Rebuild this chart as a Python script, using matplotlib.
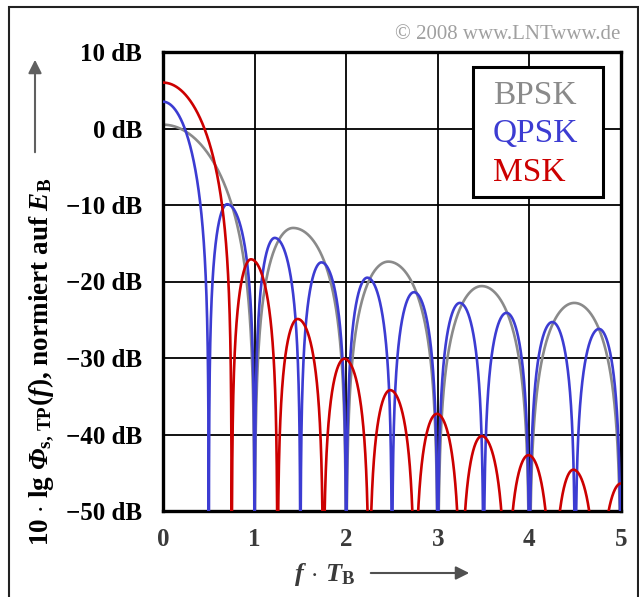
import numpy as np
import matplotlib
matplotlib.use('Agg')
import matplotlib.pyplot as plt
from matplotlib.patches import Rectangle

# Lobe data of the three spectra (10 lg PSD in dB over f*T_B)
# BPSK
bpsk_main_db = 0.5
bpsk_nulls = [1.0, 2.0, 3.0, 4.0, 5.0]
bpsk_peak_f = [1.42, 2.46, 3.48, 4.49]
bpsk_peak_db = [-13.0, -17.4, -20.6, -22.8]

# QPSK
qpsk_main_db = 3.5
qpsk_nulls = [0.5, 1.0, 1.5, 2.0, 2.5, 3.0, 3.5, 4.0, 4.5, 5.0]
qpsk_peak_f = [0.70, 1.22, 1.73, 2.23, 2.74, 3.24, 3.75, 4.25, 4.76]
qpsk_peak_db = [-9.9, -14.3, -17.5, -19.5, -21.4, -22.8, -24.1, -25.3, -26.2]

# MSK
msk_main_db = 6.0
msk_nulls = [0.75, 1.25, 1.75, 2.25, 2.75, 3.25, 3.75, 4.25, 4.75, 5.25]
msk_peak_f = [0.96, 1.47, 1.98, 2.48, 2.99, 3.48, 3.99, 4.48, 5.0]
msk_peak_db = [-17.1, -24.9, -30.1, -34.2, -37.3, -40.2, -42.7, -44.6, -46.4]

y_ticks = [10, 0, -10, -20, -30, -40, -50]
y_labels = ['10 dB', '0 dB', '\u221210 dB', '\u221220 dB', '\u221230 dB', '\u221240 dB', '\u221250 dB']
x_ticks = [0, 1, 2, 3, 4, 5]

W, H = 639, 597

plt.rcParams['font.family'] = ['Liberation Serif', 'DejaVu Serif']
plt.rcParams['mathtext.fontset'] = 'custom'
plt.rcParams['mathtext.rm'] = 'Liberation Serif:bold'
plt.rcParams['mathtext.it'] = 'Liberation Serif:bold:italic'
plt.rcParams['mathtext.bf'] = 'Liberation Serif:bold'
plt.rcParams['mathtext.bfit'] = 'Liberation Serif:bold:italic'


def lobes_db(f, main_db, nulls, peak_f, peak_db):
    # main lobe from f=0 to the first null, then one arch per side lobe
    lin = np.zeros_like(f)
    m = f < nulls[0]
    lin[m] = 10 ** (main_db / 10) * np.sinc(f[m] / nulls[0]) ** 2
    for i in range(len(peak_f)):
        a, b, p = nulls[i], nulls[i + 1], peak_f[i]
        m = (f >= a) & (f < b)
        fm = f[m]
        ph = np.where(fm < p, 0.5 * (fm - a) / (p - a), 0.5 + 0.5 * (fm - p) / (b - p))
        lin[m] = 10 ** (peak_db[i] / 10) * np.sin(np.pi * ph) ** 2
    return 10 * np.log10(np.maximum(lin, 1e-12))


def px(x, y):
    return x / W, 1 - y / H


f = np.linspace(0, 5, 20001)

fig = plt.figure(figsize=(W / 100, H / 100), dpi=100)
x0, y0 = px(163, 511)
x1, y1 = px(621, 52)
ax = fig.add_axes([x0, y0, x1 - x0, y1 - y0])

# grid
for gx in [1, 2, 3, 4]:
    ax.axvline(gx, color='black', lw=1.3, zorder=1)
for gy in [0, -10, -20, -30, -40]:
    ax.axhline(gy, color='black', lw=1.3, zorder=1)

ax.plot(f, lobes_db(f, bpsk_main_db, bpsk_nulls, bpsk_peak_f, bpsk_peak_db),
        color='#8a8a8a', lw=1.9, zorder=2)
ax.plot(f, lobes_db(f, qpsk_main_db, qpsk_nulls, qpsk_peak_f, qpsk_peak_db),
        color='#3c3cd2', lw=1.9, zorder=3)
ax.plot(f, lobes_db(f, msk_main_db, msk_nulls, msk_peak_f, msk_peak_db),
        color='#cc0000', lw=1.9, zorder=4)

ax.set_xlim(0, 5)
ax.set_ylim(-50, 10)
ax.set_yticks(y_ticks)
ax.set_yticklabels(y_labels, fontsize=18, fontweight='bold')
ax.set_xticks(x_ticks)
ax.set_xticklabels([str(t) for t in x_ticks], fontsize=18, fontweight='bold', color='#3a3a3a')
ax.tick_params(length=0, pad=15)
ax.tick_params(axis='x', pad=12)
for s in ax.spines.values():
    s.set_linewidth(2.4)

# legend box
ax.add_patch(Rectangle((0.677, 0.684), 0.284, 0.283, transform=ax.transAxes,
                       facecolor='white', edgecolor='black', lw=2.2, zorder=5))
for name, col, yb in [('BPSK', '#8a8a8a', 104), ('QPSK', '#3c3cd2', 142), ('MSK', '#cc0000', 181)]:
    fig.text(*px(493, yb), name, color=col, fontsize=24, va='baseline', ha='left', zorder=6)

# axis labels with arrows
fig.text(*px(41, 362), r'10 $\cdot$ lg $\mathbfit{Φ}_{\mathrm{s,\,TP}}(f)$, normiert auf $E_\mathrm{B}$',
         rotation=90, ha='center', va='center', fontsize=19.5, fontweight='bold')
fig.text(*px(325, 574), r'$f\,\cdot\,T_\mathrm{B}$', ha='center', va='center', fontsize=19, color='#3a3a3a')
ax.annotate('', xy=(35, H - 57), xytext=(35, H - 155), xycoords='figure pixels',
            textcoords='figure pixels',
            arrowprops=dict(arrowstyle='-|>', color='#606060', lw=1.5, mutation_scale=20))
ax.annotate('', xy=(472, H - 573), xytext=(368, H - 573), xycoords='figure pixels',
            textcoords='figure pixels',
            arrowprops=dict(arrowstyle='-|>', color='#505050', lw=1.5, mutation_scale=20))

fig.text(*px(620, 39), '\u00a9 2008 www.LNTwww.de', color='#a0a0a0', fontsize=15,
         ha='right', va='baseline')

# outer frame
fig.patches.append(Rectangle((9 / W, -0.01), (638 - 9) / W, 1 - 7 / H + 0.01,
                             transform=fig.transFigure, fill=False, edgecolor='#222222', lw=1.5))

fig.savefig('out.png', dpi=100)
